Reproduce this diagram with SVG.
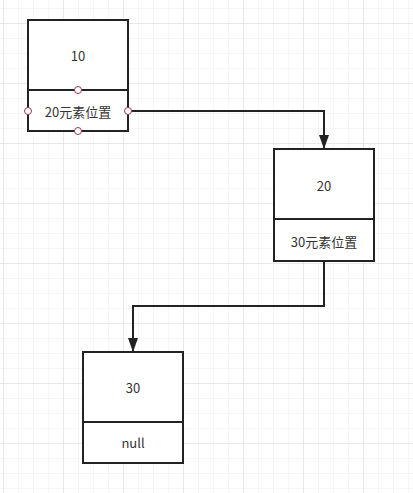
<svg xmlns="http://www.w3.org/2000/svg" width="413" height="493" viewBox="0 0 413 493">
<defs>
<pattern id="minor" x="3" y="8" width="15" height="15" patternUnits="userSpaceOnUse">
<path d="M0 0H15M0 0V15" fill="none" stroke="#ededed" stroke-width="1"/>
</pattern>
<pattern id="major" x="3" y="23" width="60" height="60" patternUnits="userSpaceOnUse">
<path d="M0 0H60M0 0V60" fill="none" stroke="#dcdcdc" stroke-width="1"/>
</pattern>
<marker id="arrow" viewBox="0 0 14 10" refX="14" refY="5" markerWidth="14" markerHeight="10" markerUnits="userSpaceOnUse" orient="auto">
<path d="M0 0L14 5L0 10Z" fill="#222"/>
</marker>
</defs>
<style>
.box{fill:#fff;stroke:#222;stroke-width:2}
.div{stroke:#222;stroke-width:2}
.t{font-family:"Noto Sans CJK SC","Microsoft YaHei",sans-serif;font-size:13px;fill:#333;text-anchor:middle;dominant-baseline:central}
.edge{fill:none;stroke:#222;stroke-width:2}
.pt{fill:#fff;stroke:#9a3a50;stroke-width:1}
</style>
<rect width="413" height="493" fill="#fff"/>
<rect width="413" height="493" fill="url(#minor)"/>
<rect width="413" height="493" fill="url(#major)"/>
<g id="connectors">
<path class="edge" d="M128 111H324V149" marker-end="url(#arrow)"/>
<path class="edge" d="M324 261V306H133V352" marker-end="url(#arrow)"/>
</g>
<g id="node10">
<rect class="box" x="28" y="20" width="100" height="111"/>
<line class="div" x1="28" y1="90" x2="128" y2="90"/>
<text class="t" x="78" y="55">10</text>
<text class="t" x="78" y="111">20元素位置</text>
<circle class="pt" cx="78" cy="90" r="3.5"/>
<circle class="pt" cx="28" cy="111" r="3.5"/>
<circle class="pt" cx="128" cy="111" r="3.5"/>
<circle class="pt" cx="78" cy="131" r="3.5"/>
</g>
<g id="node20">
<rect class="box" x="274" y="149" width="100" height="112"/>
<line class="div" x1="274" y1="219" x2="374" y2="219"/>
<text class="t" x="324" y="185">20</text>
<text class="t" x="324" y="241">30元素位置</text>
</g>
<g id="node30">
<rect class="box" x="83" y="352" width="100" height="111"/>
<line class="div" x1="83" y1="422" x2="183" y2="422"/>
<text class="t" x="133" y="387">30</text>
<text class="t" x="133" y="442">null</text>
</g>
</svg>
